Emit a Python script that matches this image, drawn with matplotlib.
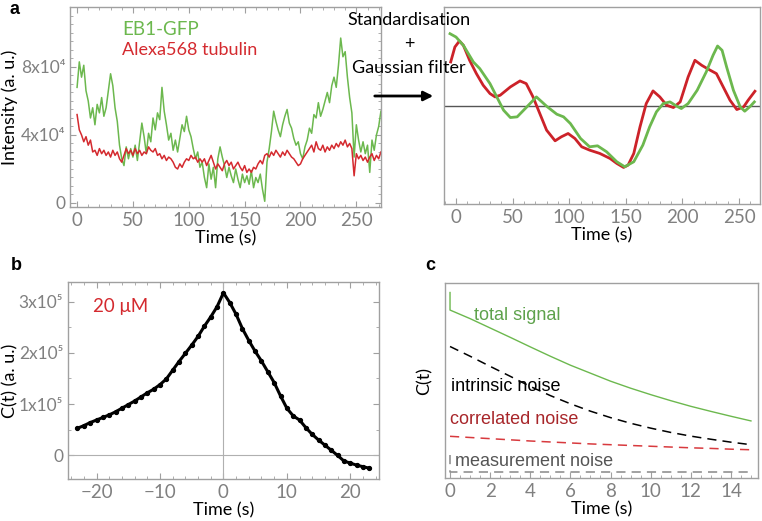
import numpy as np
import matplotlib
matplotlib.use("Agg")
import matplotlib.pyplot as plt
from matplotlib.ticker import MultipleLocator

# 1. DATA
# panel a (left): raw intensity traces, in units of 1e4, one sample every 2 s
trace_time = np.arange(0, 273, 2)
eb1_gfp = [6.8, 8.3, 7.4, 8.1, 6.6, 6.0, 5.0, 5.6, 4.6, 5.8, 5.3, 6.2, 5.1, 5.6, 6.6, 7.6, 6.9, 5.6, 4.8, 3.4,
           2.6, 2.2, 3.3, 2.6, 3.2, 2.7, 3.4, 2.5, 3.6, 4.7, 3.9, 2.9, 4.1, 3.6, 5.0, 4.3, 5.3, 4.9, 6.8, 5.4,
           4.6, 3.7, 4.1, 3.1, 3.7, 3.0, 3.8, 4.6, 4.2, 5.1, 4.3, 3.9, 3.2, 2.6, 3.0, 2.1, 2.4, 1.5, 0.9, 2.3,
           1.4, 2.1, 0.9, 2.6, 3.3, 2.7, 2.2, 1.5, 2.1, 1.6, 1.2, 2.0, 1.4, 0.9, 1.7, 1.2, 1.6, 1.1, 1.9, 0.9,
           1.5, 1.2, 1.7, 0.8, 0.1, 2.4, 3.2, 4.2, 5.4, 4.8, 4.3, 3.9, 4.6, 5.1, 5.5, 4.7, 4.4, 3.8, 3.4, 3.6,
           2.9, 2.6, 3.3, 3.7, 4.4, 4.1, 5.2, 5.0, 5.9, 5.1, 5.5, 6.0, 6.5, 5.9, 6.9, 7.4, 6.8, 8.1, 9.7, 8.6,
           8.9, 7.4, 6.2, 5.3, 2.7, 4.6, 3.7, 3.0, 3.6, 2.9, 3.4, 1.8, 3.7, 3.1, 4.0, 4.5, 5.4]
alexa568 = [5.2, 4.3, 4.0, 3.6, 3.9, 3.4, 3.7, 3.0, 3.1, 2.8, 3.2, 2.9, 3.1, 2.8, 3.0, 2.7, 3.1, 2.8, 3.0, 2.6,
            2.4, 2.8, 3.2, 2.9, 3.1, 2.8, 3.2, 2.9, 3.1, 2.8, 3.0, 2.9, 3.3, 3.1, 3.0, 3.2, 2.8, 2.9, 2.6, 2.8,
            2.5, 2.7, 2.6, 2.4, 2.1, 2.0, 2.3, 2.1, 2.4, 2.6, 2.5, 2.8, 2.6, 2.7, 2.4, 2.6, 2.4, 2.6, 2.2, 2.5,
            2.8, 2.4, 2.0, 2.3, 2.1, 1.9, 2.3, 2.5, 2.2, 2.4, 2.0, 2.2, 2.4, 2.1, 1.9, 2.2, 1.8, 2.0, 1.8, 2.1,
            2.0, 2.3, 2.5, 2.3, 2.8, 2.9, 2.7, 3.0, 2.8, 3.1, 2.9, 2.7, 3.0, 2.8, 3.1, 2.9, 2.7, 2.6, 2.4, 2.2,
            2.3, 2.6, 2.8, 3.0, 3.2, 3.4, 3.0, 3.6, 3.2, 3.1, 3.4, 3.0, 3.3, 3.1, 3.4, 3.2, 3.5, 3.3, 3.6, 3.4,
            3.7, 3.3, 3.5, 3.2, 1.6, 2.9, 2.6, 2.8, 2.5, 2.7, 2.4, 2.7, 2.9, 2.5, 2.8, 2.6, 3.0]

# panel a (right): standardised + gaussian filtered
green_t = [-5.3, 0, 6.5, 15.3, 21, 30, 36, 42, 48, 54, 62, 71, 80, 89, 95, 101, 110, 118, 125, 133, 142,
           149, 157, 165, 171, 177, 183, 189, 195, 199, 205, 213, 221, 227, 231, 235, 239, 245, 251, 255, 260, 263.5]
green_z = [2.16, 2.06, 1.81, 1.31, 1.11, 0.66, 0.26, -0.14, -0.36, -0.34, -0.06, 0.26, -0.02, -0.26, -0.34,
           -0.54, -0.99, -1.24, -1.21, -1.39, -1.69, -1.84, -1.69, -1.19, -0.64, -0.19, 0.06, 0.11, -0.02, -0.09,
           0.06, 0.46, 1.01, 1.51, 1.79, 1.66, 1.16, 0.46, -0.04, -0.17, -0.02, 0.11]
red_t = [-4.7, -1, 3, 6.5, 12, 18, 24, 30, 34.5, 39, 48, 56.5, 62, 68, 74, 80, 87.5, 93, 99, 105, 111, 118,
         127, 136, 142, 148, 152, 157, 162.5, 168, 174, 180, 186, 192, 198, 205, 211, 217, 223, 230, 236, 242,
         248, 254, 258, 264]
red_z = [1.31, 1.76, 1.94, 1.81, 1.36, 0.96, 0.61, 0.36, 0.26, 0.31, 0.56, 0.74, 0.66, 0.26, -0.24, -0.74,
         -1.06, -0.94, -0.84, -0.99, -1.24, -1.34, -1.44, -1.59, -1.74, -1.86, -1.79, -1.44, -0.64, 0.06, 0.44,
         0.26, 0.01, -0.06, 0.11, 0.86, 1.36, 1.21, 1.09, 0.96, 0.56, 0.16, -0.12, -0.04, 0.16, 0.43]

# panel b: cross correlation, units of 1e5
lag = np.arange(-23, 24)
corr = [0.53, 0.58, 0.64, 0.69, 0.74, 0.79, 0.85, 0.92, 0.99, 1.06, 1.14, 1.22, 1.29, 1.38, 1.49, 1.66,
        1.83, 1.99, 2.15, 2.32, 2.52, 2.70, 2.90, 3.17, 2.98, 2.75, 2.47, 2.24, 2.03, 1.84, 1.63, 1.42,
        1.16, 0.92, 0.77, 0.69, 0.54, 0.41, 0.30, 0.20, 0.10, 0.00, -0.11, -0.15, -0.19, -0.22, -0.25]

# panel c: schematic components (arbitrary units)
c_time = np.arange(0, 16)
total_sig = [0.862, 0.818, 0.770, 0.722, 0.673, 0.625, 0.579, 0.538, 0.497, 0.461, 0.428, 0.397, 0.368,
             0.342, 0.317, 0.293]
total_spike = 0.952
intrinsic = [0.675, 0.625, 0.573, 0.522, 0.470, 0.423, 0.381, 0.343, 0.310, 0.281, 0.256, 0.234, 0.215,
             0.199, 0.184, 0.171]
correlated = [0.214, 0.208, 0.202, 0.196, 0.190, 0.185, 0.180, 0.175, 0.171, 0.167, 0.163, 0.159, 0.155,
              0.152, 0.148, 0.145]
measurement = [0.029] * 16
meas_spike = 0.12

# 2. STYLE
GREEN = "#6cb84e"
RED = "#d42a2f"
TICK = "#808080"
SPINE = "#a0a0a0"
plt.rcParams["font.family"] = ["Lato", "DejaVu Sans"]
plt.rcParams["font.size"] = 13


def frame(ax, ticks_sides=True):
    for s in ax.spines.values():
        s.set_color(SPINE)
        s.set_linewidth(1.0)
    ax.tick_params(which="both", direction="in", colors=SPINE, labelcolor=TICK, labelsize=13.5,
                   top=ticks_sides, right=ticks_sides)
    ax.tick_params(axis="y", labelsize=12.5)
    ax.tick_params(which="major", length=4)
    ax.tick_params(which="minor", length=2.5)


fig = plt.figure(figsize=(7.62, 5.21), dpi=100)

# 3. PANEL a LEFT
ax1 = fig.add_axes([0.0919, 0.6027, 0.408, 0.384])
ax1.plot(trace_time, np.array(eb1_gfp) * 1e4, color=GREEN, lw=1.1)
ax1.plot(trace_time, np.array(alexa568) * 1e4, color=RED, lw=1.1)
ax1.set_xlim(-6.3, 272)
ax1.set_ylim(-2350, 115300)
ax1.set_xticks([0, 50, 100, 150, 200, 250])
ax1.xaxis.set_minor_locator(MultipleLocator(10))
ax1.set_yticks([0, 4e4, 8e4])
ax1.set_yticklabels(["0", "4x10⁴", "8x10⁴"])
ax1.yaxis.set_minor_locator(MultipleLocator(5000))
frame(ax1)
ax1.set_xlabel("Time (s)", labelpad=1)
ax1.set_ylabel("Intensity (a. u.)", fontsize=13)
ax1.yaxis.set_label_coords(-0.166, 0.5)
ax1.text(40, 10.2e4, "EB1-GFP", color=GREEN, fontsize=13.5, va="center")
ax1.text(40, 9.0e4, "Alexa568 tubulin", color=RED, fontsize=13, va="center")

# 4. PANEL a RIGHT
ax2 = fig.add_axes([0.5827, 0.6084, 0.4147, 0.378])
ax2.axhline(0, color="#555555", lw=1)
ax2.plot(red_t, red_z, color="#cc2229", lw=2)
ax2.plot(green_t, green_z, color=GREEN, lw=2)
ax2.set_xlim(-10.6, 268.5)
ax2.set_ylim(-2.96, 2.96)
ax2.set_xticks([0, 50, 100, 150, 200, 250])
ax2.xaxis.set_minor_locator(MultipleLocator(10))
ax2.set_yticks([])
frame(ax2, ticks_sides=False)
ax2.set_xlabel("Time (s)", labelpad=1)

fig.text(409 / 762, 1 - 20 / 521, "Standardisation", ha="center", va="center", fontsize=13)
fig.text(409 / 762, 1 - 44 / 521, "+", ha="center", va="center", fontsize=13)
fig.text(409 / 762, 1 - 68 / 521, "Gaussian filter", ha="center", va="center", fontsize=13)
fig.add_artist(matplotlib.patches.FancyArrowPatch((372 / 762, 1 - 96 / 521), (436 / 762, 1 - 96 / 521),
                                                  transform=fig.transFigure, arrowstyle="-|>",
                                                  mutation_scale=14, lw=2, color="black"))

# 5. PANEL b
ax3 = fig.add_axes([0.0892, 0.0806, 0.408, 0.378])
ax3.axhline(0, color="#b0b0b0", lw=0.8)
ax3.axvline(0, color="#b0b0b0", lw=0.8)
ax3.plot(lag, np.array(corr) * 1e5, color="black", lw=2.2, marker="o", markersize=2.8)
ax3.set_xlim(-24.5, 24.5)
ax3.set_ylim(-0.46e5, 3.38e5)
ax3.set_xticks([-20, -10, 0, 10, 20])
ax3.xaxis.set_minor_locator(MultipleLocator(2))
ax3.set_yticks([0, 1e5, 2e5, 3e5])
ax3.set_yticklabels(["0", "1x10⁵", "2x10⁵", "3x10⁵"])
ax3.yaxis.set_minor_locator(MultipleLocator(0.5e5))
frame(ax3)
ax3.set_xlabel("Time (s)", labelpad=1)
ax3.set_ylabel("C(t) (a. u.)", fontsize=13)
ax3.yaxis.set_label_coords(-0.16, 0.5)
ax3.text(-20.5, 2.9e5, "20 μM", color=RED, fontsize=13.5, va="center")

# 6. PANEL c
ax4 = fig.add_axes([0.584, 0.0825, 0.411, 0.374])
ax4.plot(np.r_[0, c_time], np.r_[total_spike, total_sig], color=GREEN, lw=1)
ax4.plot(c_time, intrinsic, color="black", lw=1.1, dashes=(6, 4))
ax4.plot(c_time, correlated, color="#d83a3e", lw=1.1, dashes=(6, 4))
ax4.plot(np.r_[0, c_time], np.r_[meas_spike, measurement], color="#888888", lw=1.1, dashes=(6, 4))
ax4.set_xlim(-0.25, 15.36)
ax4.set_ylim(0, 1)
ax4.set_xticks(range(0, 15, 2))
ax4.xaxis.set_minor_locator(MultipleLocator(0.5))
ax4.set_yticks([])
frame(ax4, ticks_sides=False)
ax4.set_xlabel("Time (s)", labelpad=1)
ax4.set_ylabel("C(t)", fontsize=13)
ax4.yaxis.set_label_coords(-0.04, 0.5)
arial = ["Liberation Sans", "DejaVu Sans"]
ax4.text(1.2, 0.835, "total signal", color="#5ea24c", fontsize=13, family=arial, va="center")
ax4.text(0.05, 0.47, "intrinsic noise", color="black", fontsize=13, family=arial, va="center")
ax4.text(0.0, 0.30, "correlated noise", color="#a8262a", fontsize=13, family=arial, va="center")
ax4.text(0.25, 0.085, "measurement noise", color="#555555", fontsize=13, family=arial, va="center")

# panel letters
fig.text(14 / 762, 1 - 9 / 521, "a", fontweight="bold", fontsize=13, family=arial, ha="center", va="center")
fig.text(16 / 762, 1 - 266 / 521, "b", fontweight="bold", fontsize=13, family=arial, ha="center", va="center")
fig.text(430 / 762, 1 - 266 / 521, "c", fontweight="bold", fontsize=13, family=arial, ha="center", va="center")

fig.savefig("out.png", dpi=100)
